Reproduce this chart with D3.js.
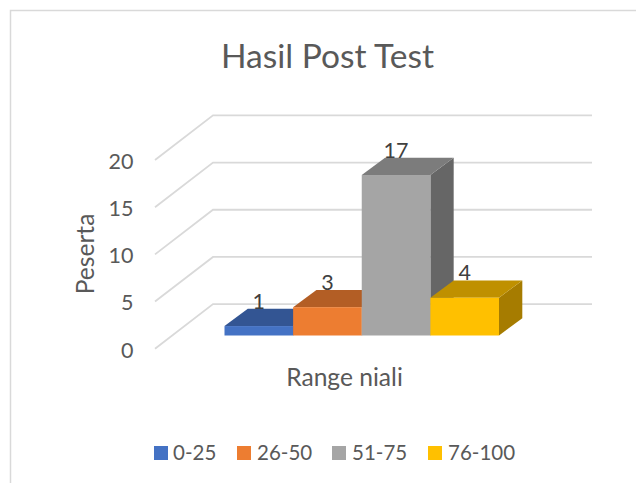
<!DOCTYPE html>
<html>
<head>
<meta charset="utf-8">
<script src="https://cdn.jsdelivr.net/npm/d3@7/dist/d3.min.js"></script>
<style>html,body{margin:0;padding:0;background:#fff}svg{display:block}text{font-family:Lato,"Open Sans",sans-serif}</style>
</head>
<body>
<div id="chart"></div>
<script>
const categories = ["0-25", "26-50", "51-75", "76-100"];
const values = [1, 3, 17, 4];
const tickValues = [0, 5, 10, 15, 20];
const frontColors = ["#4472C4", "#ED7D31", "#A5A5A5", "#FFC000"];
const topColors = ["#335593", "#B35E25", "#7C7C7C", "#BF9000"];
const sideColors = ["#29467A", "#8F4B1E", "#666666", "#A67C00"];
const legendSwatchX = [154, 237, 332, 428];
const legendTextX = [173, 257, 352, 448];

const W = 636, H = 483;
const svg = d3.select("#chart").append("svg").attr("width", W).attr("height", H);

const wallY = d3.scaleLinear().domain([0, 20]).range([348.7, 160]);
const height = d3.scaleLinear().domain([0, 20]).range([0, 188.8]);
const x = d3.scaleBand().domain(categories).range([224.5, 499]).padding(0);
const wall = { dx: 58, dy: -44.6, right: 592 };
const bar = { dx: 23.3, dy: -17.3, floor: 335.5 };

// frame
svg.append("path").attr("d", `M10.5,${H}V10.5H${W}`).attr("fill", "none").attr("stroke", "#d9d9d9").attr("stroke-width", 1.5);

// grid
svg.append("g").selectAll("path").data(tickValues).join("path")
  .attr("d", d => {
    const y0 = wallY(d);
    return `M155,${y0}L${155 + wall.dx},${y0 + wall.dy}H${wall.right}`;
  })
  .attr("fill", "none").attr("stroke", "#d9d9d9").attr("stroke-width", 1.8);

// tick labels
svg.append("g").selectAll("text").data(tickValues).join("text")
  .attr("x", 133.5).attr("y", d => wallY(d) + 1.3).attr("dy", "0.35em")
  .attr("text-anchor", "end").attr("font-size", 21.5).attr("fill", "#595959").text(d => d);

// bars
const g = svg.append("g").selectAll("g").data(categories).join("g");
g.append("path").attr("fill", (d, i) => sideColors[i]).attr("d", (d, i) => {
  const r = x(d) + x.bandwidth(), t = bar.floor - height(values[i]);
  return `M${r},${bar.floor}V${t}l${bar.dx},${bar.dy}V${bar.floor + bar.dy}Z`;
});
g.append("path").attr("fill", (d, i) => topColors[i]).attr("d", (d, i) => {
  const l = x(d), t = bar.floor - height(values[i]);
  return `M${l},${t}l${bar.dx},${bar.dy}h${x.bandwidth()}l${-bar.dx},${-bar.dy}Z`;
});
g.append("rect").attr("fill", (d, i) => frontColors[i])
  .attr("x", d => x(d)).attr("width", x.bandwidth())
  .attr("y", (d, i) => bar.floor - height(values[i]))
  .attr("height", (d, i) => height(values[i]));

// data labels
svg.append("g").selectAll("text").data(categories).join("text")
  .attr("x", d => x(d) + x.bandwidth() / 2)
  .attr("y", (d, i) => bar.floor - height(values[i]) + bar.dy)
  .attr("text-anchor", "middle").attr("font-size", 21.5).attr("fill", "#404040")
  .text((d, i) => values[i]);

// titles
svg.append("text").attr("x", 327.5).attr("y", 68).attr("text-anchor", "middle")
  .attr("font-size", 33.5).attr("fill", "#595959").text("Hasil Post Test");
svg.append("text").attr("x", 344.5).attr("y", 386).attr("text-anchor", "middle")
  .attr("font-size", 24.6).attr("fill", "#595959").text("Range niali");
svg.append("text").attr("transform", "translate(94,254) rotate(-90)").attr("text-anchor", "middle")
  .attr("font-size", 24.6).attr("fill", "#595959").text("Peserta");

// legend
const lg = svg.append("g").selectAll("g").data(categories).join("g");
lg.append("rect").attr("x", (d, i) => legendSwatchX[i]).attr("y", 446).attr("width", 14).attr("height", 14)
  .attr("fill", (d, i) => frontColors[i]);
lg.append("text").attr("x", (d, i) => legendTextX[i]).attr("y", 460)
  .attr("font-size", 20.5).attr("fill", "#595959").text(d => d);
</script>
</body>
</html>
